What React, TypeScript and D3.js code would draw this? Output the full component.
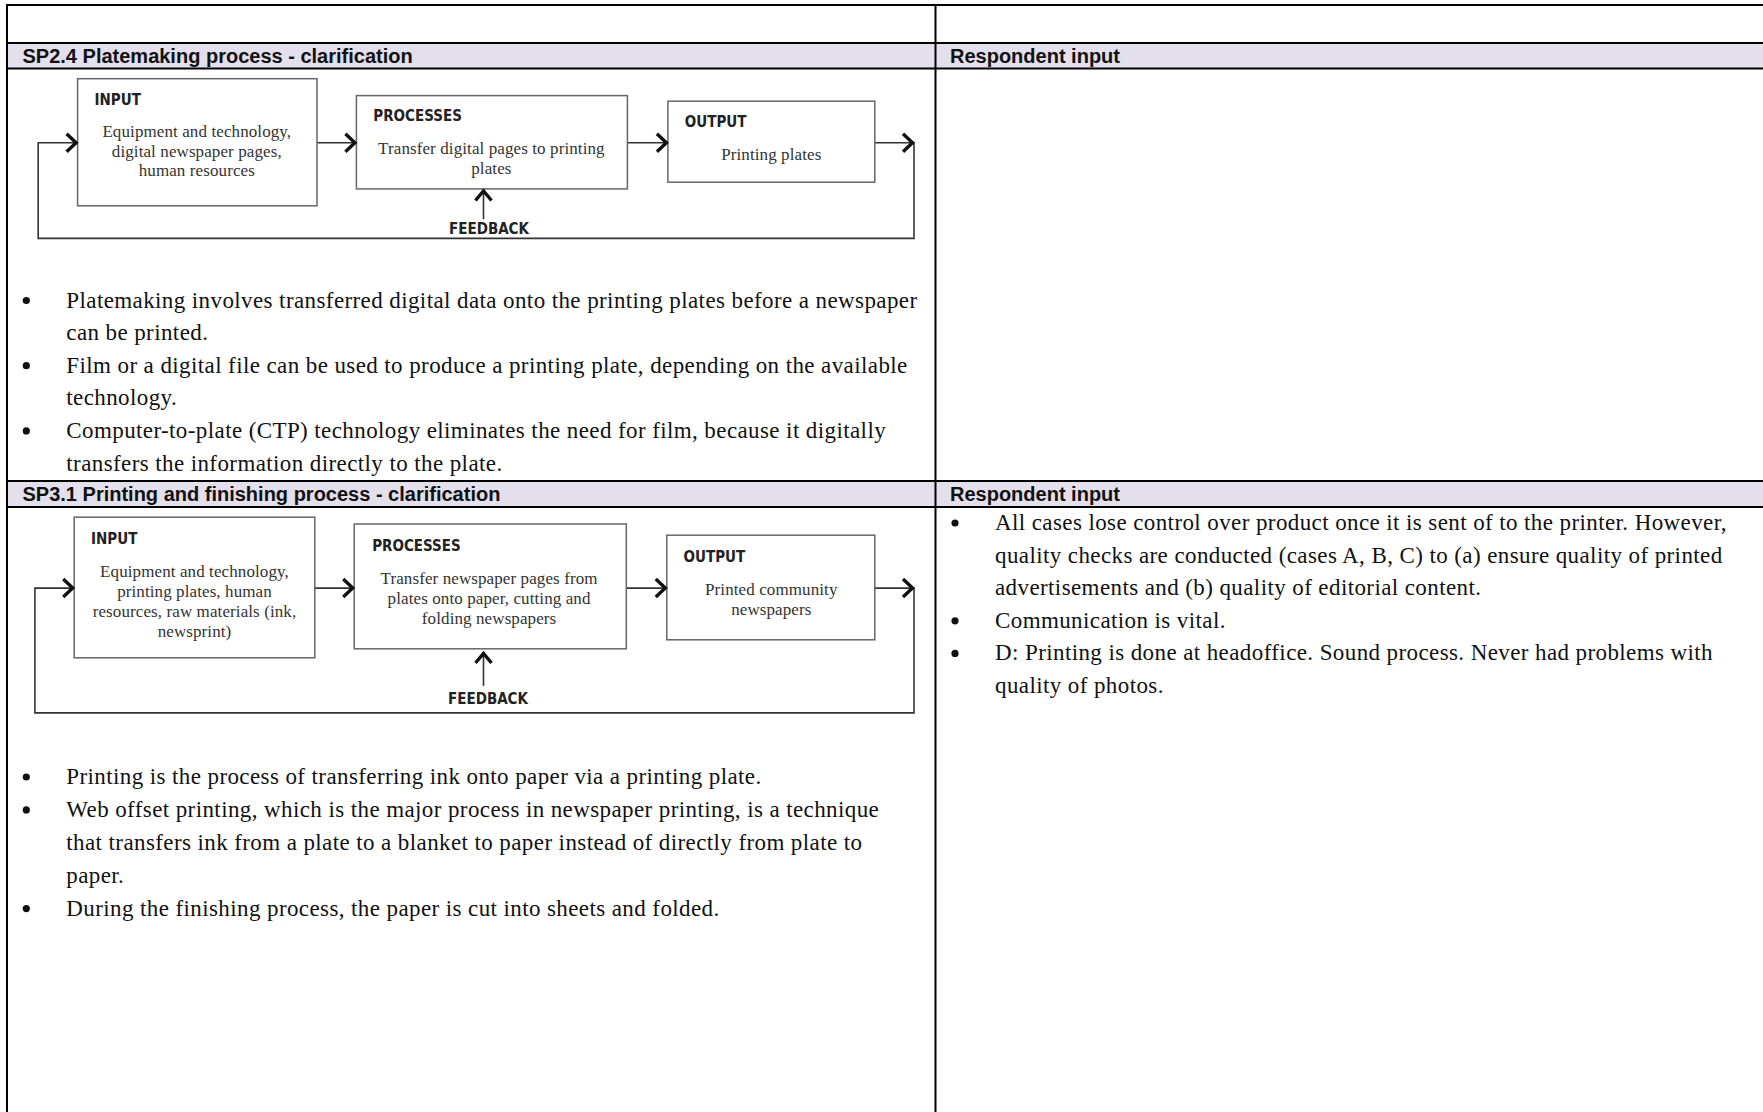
import * as d3 from 'd3';
import React from 'react';

const WIDTH = 1763;
const HEIGHT = 1112;

const LEFT_HEADERS = [
    'SP2.4 Platemaking process - clarification',
    'SP3.1 Printing and finishing process - clarification',
];
const RIGHT_HEADER = 'Respondent input';

const STAGE_LABELS = ['INPUT', 'PROCESSES', 'OUTPUT'];
const FEEDBACK_LABEL = 'FEEDBACK';

const PLATE_STAGES = [
    ['Equipment and technology,', 'digital newspaper pages,', 'human resources'],
    ['Transfer digital pages to printing', 'plates'],
    ['Printing plates'],
];

const PRINT_STAGES = [
    ['Equipment and technology,', 'printing plates, human', 'resources, raw materials (ink,', 'newsprint)'],
    ['Transfer newspaper pages from', 'plates onto paper, cutting and', 'folding newspapers'],
    ['Printed community', 'newspapers'],
];

const PLATE_NOTES = [
    ['Platemaking involves transferred digital data onto the printing plates before a newspaper', 'can be printed.'],
    ['Film or a digital file can be used to produce a printing plate, depending on the available', 'technology.'],
    ['Computer-to-plate (CTP) technology eliminates the need for film, because it digitally', 'transfers the information directly to the plate.'],
];

const PRINT_NOTES = [
    ['Printing is the process of transferring ink onto paper via a printing plate.'],
    ['Web offset printing, which is the major process in newspaper printing, is a technique', 'that transfers ink from a plate to a blanket to paper instead of directly from plate to', 'paper.'],
    ['During the finishing process, the paper is cut into sheets and folded.'],
];

const RESPONDENT_NOTES = [
    ['All cases lose control over product once it is sent of to the printer. However,', 'quality checks are conducted (cases A, B, C) to (a) ensure quality of printed', 'advertisements and (b) quality of editorial content.'],
    ['Communication is vital.'],
    ['D: Printing is done at headoffice. Sound process. Never had problems with', 'quality of photos.'],
];

const SERIF = "'Liberation Serif', 'Times New Roman', serif";
const SANS = "'Liberation Sans', Arial, sans-serif";
const NARROW = "'Liberation Sans Narrow', 'DejaVu Sans Condensed', 'Liberation Sans', sans-serif";

type Box = { x0: number; x1: number; y0: number; y1: number; lx: number; ly: number; cx: number; ty: number };
type Layout = {
    left: number; right: number; bottom: number; arrowY: number; lineGap: number;
    boxes: Box[]; fbX: number; fbTip: number; fbBase: number; fbTextX: number; fbTextY: number;
};

const line = d3.line<[number, number]>();

const Chevron: React.FC<{ x: number; y: number; dir: 'right' | 'up' }> = ({ x, y, dir }) => {
    const pts: [number, number][] =
        dir === 'right'
            ? [[x - 11, y - 9], [x - 1.5, y], [x - 11, y + 9]]
            : [[x - 8, y + 11], [x, y + 1.5], [x + 8, y + 11]];
    return <path d={line(pts) ?? ''} fill="none" stroke="#111" strokeWidth={3.4} strokeLinejoin="miter" />;
};

const Diagram: React.FC<{ layout: Layout; stages: string[][] }> = ({ layout, stages }) => {
    const { left, right, bottom, arrowY, boxes, lineGap } = layout;
    const loop: [number, number][] = [
        [boxes[2].x1, arrowY], [right, arrowY], [right, bottom], [left, bottom], [left, arrowY], [boxes[0].x0, arrowY],
    ];
    return (
        <g>
            <path d={line(loop) ?? ''} fill="none" stroke="#333" strokeWidth={1.6} />
            {boxes.slice(0, 2).map((b, i) => (
                <path key={i} d={line([[b.x1, arrowY], [boxes[i + 1].x0, arrowY]]) ?? ''} stroke="#333" strokeWidth={1.6} />
            ))}
            {boxes.map((b, i) => (
                <g key={i}>
                    <rect x={b.x0} y={b.y0} width={b.x1 - b.x0} height={b.y1 - b.y0} fill="#fff" stroke="#666" strokeWidth={1.5} />
                    <text x={b.lx} y={b.ly} fontFamily={NARROW} fontWeight="bold" fontSize={15} fill="#222">
                        {STAGE_LABELS[i]}
                    </text>
                    {stages[i].map((t, j) => (
                        <text key={j} x={b.cx} y={b.ty + j * lineGap} textAnchor="middle" fontFamily={SERIF} fontSize={17} letterSpacing={0.1} fill="#333">
                            {t}
                        </text>
                    ))}
                </g>
            ))}
            {boxes.map((b, i) => (
                <Chevron key={i} x={b.x0} y={arrowY} dir="right" />
            ))}
            <Chevron x={right} y={arrowY} dir="right" />
            <path d={line([[layout.fbX, layout.fbBase], [layout.fbX, layout.fbTip]]) ?? ''} stroke="#333" strokeWidth={1.6} />
            <Chevron x={layout.fbX} y={layout.fbTip} dir="up" />
            <text x={layout.fbTextX} y={layout.fbTextY} textAnchor="middle" fontFamily={NARROW} fontWeight="bold" fontSize={15} fill="#222">
                {FEEDBACK_LABEL}
            </text>
        </g>
    );
};

const Bullets: React.FC<{ items: string[][]; x: number; y: number; gap: number }> = ({ items, x, y, gap }) => {
    const rows: { text: string; first: boolean }[] = [];
    items.forEach((it) => it.forEach((t, j) => rows.push({ text: t, first: j === 0 })));
    const yScale = d3.scaleLinear().domain([0, 1]).range([y, y + gap]);
    return (
        <g fontFamily={SERIF} fontSize={23} letterSpacing={0.4} fill="#111">
            {rows.map((r, i) => (
                <g key={i}>
                    {r.first && <circle cx={x - 40} cy={yScale(i) - 7} r={3.6} fill="#111" />}
                    <text x={x} y={yScale(i)}>{r.text}</text>
                </g>
            ))}
        </g>
    );
};

const plateLayout: Layout = {
    left: 38.2, right: 914, bottom: 238.4, arrowY: 142.8, lineGap: 19.7,
    boxes: [
        { x0: 77.6, x1: 317, y0: 78.7, y1: 205.8, lx: 94.5, ly: 104.5, cx: 196.8, ty: 137 },
        { x0: 356.4, x1: 627.4, y0: 95.6, y1: 188.9, lx: 373.3, ly: 121.4, cx: 491.4, ty: 154 },
        { x0: 667.9, x1: 874.8, y0: 101.2, y1: 182.2, lx: 684.8, ly: 127, cx: 771.3, ty: 159.7 },
    ],
    fbX: 483.5, fbTip: 189.5, fbBase: 219.3, fbTextX: 489, fbTextY: 234,
};

const printLayout: Layout = {
    left: 34.9, right: 914, bottom: 712.9, arrowY: 588.1, lineGap: 20.2,
    boxes: [
        { x0: 74.2, x1: 314.8, y0: 517.2, y1: 657.8, lx: 91, ly: 544.2, cx: 194.5, ty: 576.8 },
        { x0: 354.2, x1: 626.3, y0: 524, y1: 648.8, lx: 372.2, ly: 551, cx: 489.1, ty: 583.6 },
        { x0: 666.8, x1: 874.8, y0: 535.2, y1: 639.8, lx: 683.6, ly: 562.2, cx: 771.3, ty: 594.8 },
    ],
    fbX: 483.5, fbTip: 652, fbBase: 685.9, fbTextX: 488, fbTextY: 704,
};

const DIVIDER = 935.5;
const LEFT_EDGE = 7;
const HEADER_BANDS = [
    { y0: 43, y1: 68.5, base: 63 },
    { y0: 481, y1: 507, base: 501 },
];

export default function App() {
    return (
        <svg width={WIDTH} height={HEIGHT} style={{ position: 'absolute', left: 0, top: 0, background: '#fff' }}>
            <rect width={WIDTH} height={HEIGHT} fill="#fff" />
            {HEADER_BANDS.map((h, i) => (
                <g key={i}>
                    <rect x={LEFT_EDGE} y={h.y0} width={WIDTH - LEFT_EDGE} height={h.y1 - h.y0} fill="#E4DFEC" />
                    <line x1={LEFT_EDGE} x2={WIDTH} y1={h.y0} y2={h.y0} stroke="#000" strokeWidth={2} />
                    <line x1={LEFT_EDGE} x2={WIDTH} y1={h.y1} y2={h.y1} stroke="#000" strokeWidth={2} />
                    <text x={22.5} y={h.base} fontFamily={SANS} fontWeight="bold" fontSize={20} fill="#111">
                        {LEFT_HEADERS[i]}
                    </text>
                    <text x={950} y={h.base} fontFamily={SANS} fontWeight="bold" fontSize={20} fill="#111">
                        {RIGHT_HEADER}
                    </text>
                </g>
            ))}
            <line x1={LEFT_EDGE - 1} x2={WIDTH} y1={5} y2={5} stroke="#000" strokeWidth={2} />
            <line x1={LEFT_EDGE} x2={LEFT_EDGE} y1={4} y2={HEIGHT} stroke="#000" strokeWidth={2} />
            <line x1={DIVIDER} x2={DIVIDER} y1={4} y2={HEIGHT} stroke="#000" strokeWidth={2} />

            <Diagram layout={plateLayout} stages={PLATE_STAGES} />
            <Diagram layout={printLayout} stages={PRINT_STAGES} />

            <Bullets items={PLATE_NOTES} x={66.3} y={307.5} gap={32.6} />
            <Bullets items={PRINT_NOTES} x={66.3} y={784} gap={32.9} />
            <Bullets items={RESPONDENT_NOTES} x={995} y={530} gap={32.6} />
        </svg>
    );
}
